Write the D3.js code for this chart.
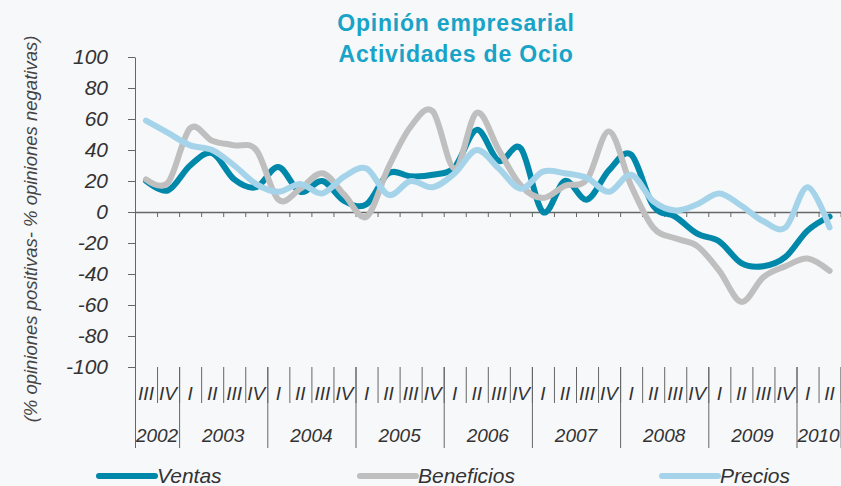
<!DOCTYPE html>
<html><head>
<meta charset="utf-8">
<title>Opinión empresarial - Actividades de Ocio</title>
<script src="https://d3js.org/d3.v7.min.js"></script>
<style>
  body { margin: 0; background: #f7f8fa; }
  svg { display: block; font-family: "Liberation Sans", Arial, sans-serif; }
  .axis text { font-style: italic; fill: #333; }
  .axis line, .axis path { stroke: #666; }
  .line { fill: none; stroke-width: 6; stroke-linecap: round; stroke-linejoin: round; }
</style>
</head>
<body>
<svg id="chart" width="841" height="486"></svg>
<script>
// quarters along the x axis, 2002 III .. 2010 II
let quarters = ["III","IV",
  "I","II","III","IV", "I","II","III","IV", "I","II","III","IV", "I","II","III","IV",
  "I","II","III","IV", "I","II","III","IV", "I","II","III","IV",
  "I","II"];
let years = ["2002","2003","2004","2005","2006","2007","2008","2009","2010"];
let yearQuarters = [2,4,4,4,4,4,4,4,2];

let ventas = [20,14,30,38,21,16,29,13,20,7,5,25,23,24,29,53,33,41,0,20,8,27,37,4,-3,-14,-19,-33,-35,-29,-12,-3];
let beneficios = [21,19,54,46,43,40,8,15,25,11,-3,29,55,65,28,64,40,17,9,17,21,52,17,-10,-17,-22,-38,-58,-42,-35,-30,-38];
let precios = [59,51,43,40,30,18,13,18,12,23,28,11,20,16,25,40,28,15,26,25,22,13,24,7,1,5,12,4,-6,-10,16,-10];

let yTicks = [100,80,60,40,20,0,-20,-40,-60,-80,-100];

let series = [
  {name: "Ventas", values: ventas, color: "#0088aa"},
  {name: "Beneficios", values: beneficios, color: "#bfbfbf"},
  {name: "Precios", values: precios, color: "#a5d4ea"}
];

let svg = d3.select("#chart");
let plotLeft = 135, plotRight = 840.6, plotTop = 57, plotBottom = 367;

// scales
let xb = d3.scaleLinear().domain([0, quarters.length]).range([plotLeft, plotRight]);
let x = i => xb(i + 0.5);
let y = d3.scaleLinear().domain([-100, 100]).range([plotBottom, plotTop]);

// title
svg.append("text")
  .attr("x", 456).attr("y", 31)
  .attr("text-anchor", "middle")
  .style("font-size", "23px").style("font-weight", "bold")
  .style("letter-spacing", "0.8px")
  .style("fill", "#18a3c7")
  .text("Opinión empresarial");
svg.append("text")
  .attr("x", 456).attr("y", 62)
  .attr("text-anchor", "middle")
  .style("font-size", "23px").style("font-weight", "bold")
  .style("letter-spacing", "0.8px")
  .style("fill", "#18a3c7")
  .text("Actividades de Ocio");

// y axis (plain hyphen for negatives, as in the original)
let yAxis = d3.axisLeft(y).tickValues(yTicks).tickSize(7).tickPadding(20).tickSizeOuter(0)
  .tickFormat(d => String(d));
let yG = svg.append("g").attr("class", "axis")
  .attr("transform", "translate(" + plotLeft + ",0)")
  .call(yAxis);
yG.selectAll("text").style("font-size", "21px");

// y title
svg.append("text")
  .attr("transform", "translate(37,229) rotate(-90)")
  .attr("text-anchor", "middle")
  .style("font-size", "18.5px").style("font-style", "italic")
  .style("fill", "#444")
  .text("(% opiniones positivas- % opiniones negativas)");

// zero line with small ticks
let zeroAxis = d3.axisBottom(xb).tickValues(d3.range(1, quarters.length + 1))
  .tickSize(5).tickSizeOuter(0).tickFormat("");
svg.append("g").attr("class", "axis")
  .attr("transform", "translate(0," + y(0) + ")")
  .call(zeroAxis)
  .select(".domain").style("stroke-width", 1.5);

// category axis: quarter separators
let qAxis = d3.axisBottom(xb).tickValues(d3.range(0, quarters.length + 1))
  .tickSize(36).tickFormat("");
let qG = svg.append("g").attr("class", "axis")
  .attr("transform", "translate(0," + plotBottom + ")")
  .call(qAxis);
qG.select(".domain").remove();

// year separators
let yearStarts = [0];
yearQuarters.forEach(n => yearStarts.push(yearStarts[yearStarts.length - 1] + n));
let yrAxis = d3.axisBottom(xb).tickValues(yearStarts).tickSize(81).tickFormat("");
let yrG = svg.append("g").attr("class", "axis")
  .attr("transform", "translate(0," + plotBottom + ")")
  .call(yrAxis);
yrG.select(".domain").remove();

// quarter labels
svg.append("g").selectAll("text").data(quarters).enter().append("text")
  .attr("x", (d, i) => x(i))
  .attr("y", 400)
  .attr("text-anchor", "middle")
  .style("font-size", "19px").style("font-style", "italic").style("fill", "#333")
  .text(d => d);

// year labels
svg.append("g").selectAll("text").data(years).enter().append("text")
  .attr("x", (d, i) => (xb(yearStarts[i]) + xb(yearStarts[i + 1])) / 2)
  .attr("y", 442)
  .attr("text-anchor", "middle")
  .style("font-size", "19px").style("font-style", "italic").style("fill", "#333")
  .text(d => d);

// lines
let line = d3.line()
  .x((d, i) => x(i))
  .y(d => y(d))
  .curve(d3.curveCardinal.tension(0));

svg.append("g").selectAll("path").data(series).enter().append("path")
  .attr("class", "line")
  .attr("stroke", d => d.color)
  .attr("d", d => line(d.values));

// legend
let legendX = [99, 360, 662];
let leg = svg.append("g").selectAll("g").data(series).enter().append("g")
  .attr("transform", (d, i) => "translate(" + legendX[i] + ",476)");
leg.append("line")
  .attr("x1", 0).attr("x2", 56)
  .attr("stroke", d => d.color)
  .attr("stroke-width", 6)
  .attr("stroke-linecap", "round");
leg.append("text")
  .attr("x", 58).attr("y", 7)
  .style("font-size", "21px").style("font-style", "italic").style("fill", "#333")
  .text(d => d.name);
</script>
</body>
</html>
